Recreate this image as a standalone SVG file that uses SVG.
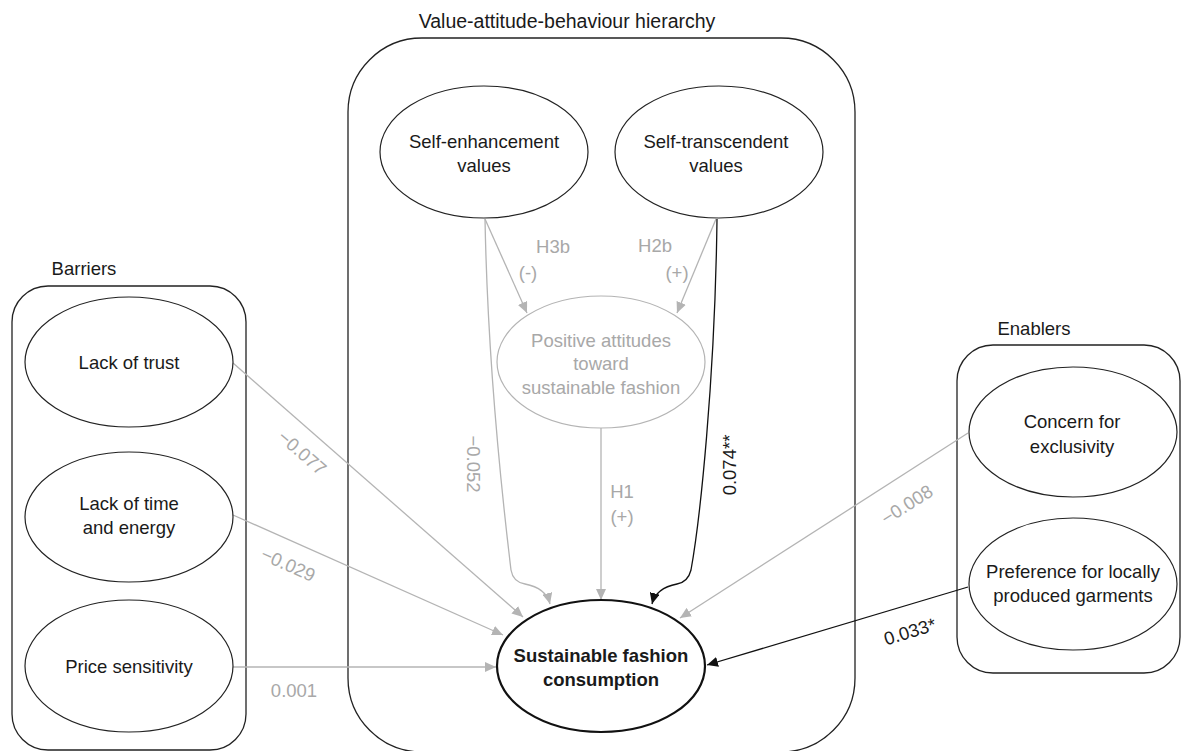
<svg xmlns="http://www.w3.org/2000/svg" width="1182" height="751" viewBox="0 0 1182 751">
<defs>
<style>
.box{fill:none;stroke:#222;stroke-width:1.3}
.node{fill:#fff;stroke:#222;stroke-width:1.2}
.gnode{fill:#fff;stroke:#b4b4b4;stroke-width:1.2}
.main{fill:#fff;stroke:#111;stroke-width:2.2}
.t{font-family:"Liberation Sans",Arial,sans-serif;font-size:18.5px;fill:#1a1a1a;text-anchor:middle}
.g{fill:#a8a8a8}
.b{font-weight:bold}
.gl{fill:none;stroke:#b4b4b4;stroke-width:1.3}
.bl{fill:none;stroke:#111;stroke-width:1.3}
</style>
<marker id="ag" markerUnits="userSpaceOnUse" markerWidth="12" markerHeight="10" refX="11" refY="5" orient="auto"><path d="M0,0 L11,5 L0,10 z" fill="#b4b4b4"/></marker>
<marker id="ab" markerUnits="userSpaceOnUse" markerWidth="12" markerHeight="10" refX="11" refY="5" orient="auto"><path d="M0,0 L11,5 L0,10 z" fill="#111"/></marker>
</defs>
<rect width="1182" height="751" fill="#fff"/>

<g id="group-hierarchy">
<rect class="box" x="348" y="38" width="507" height="714" rx="74"/>
<text class="t" x="567" y="28" style="font-size:19.5px">Value-attitude-behaviour hierarchy</text>
</g>
<g id="group-barriers">
<rect class="box" x="12" y="286" width="234" height="464" rx="36"/>
<text class="t" x="84" y="275">Barriers</text>
</g>
<g id="group-enablers">
<rect class="box" x="957" y="345" width="223" height="328" rx="36"/>
<text class="t" x="1034" y="335">Enablers</text>
</g>

<g id="connectors">
<path class="gl" d="M485,219 L527,313" marker-end="url(#ag)"/>
<path class="gl" d="M716,219 L677,313" marker-end="url(#ag)"/>
<path class="gl" d="M485,219 C488,380 505,520 511,570 Q513,582 525,584 Q546,588 550,604" marker-end="url(#ag)"/>
<path class="bl" d="M717,219 C715,380 700,520 691,570 Q688,582 677,584 Q656,588 652,604" marker-end="url(#ab)"/>
<path class="gl" d="M601,428 L601,600" marker-end="url(#ag)"/>
<path class="gl" d="M233,363 L523,617" marker-end="url(#ag)"/>
<path class="gl" d="M233,515 L503,635" marker-end="url(#ag)"/>
<path class="gl" d="M233,667 L496,667" marker-end="url(#ag)"/>
<path class="gl" d="M968,433 L680,618" marker-end="url(#ag)"/>
<path class="bl" d="M968,587 L707,665" marker-end="url(#ab)"/>
<text class="t g" x="553" y="253">H3b</text>
<text class="t g" x="528" y="279">(-)</text>
<text class="t g" x="655" y="252">H2b</text>
<text class="t g" x="677" y="279">(+)</text>
<text class="t g" x="622" y="498">H1</text>
<text class="t g" x="622" y="523">(+)</text>
<text class="t g" transform="translate(467,464) rotate(90)">−0.052</text>
<text class="t" transform="translate(736,465) rotate(-90)">0.074**</text>
<text class="t g" transform="translate(302,453) rotate(41)" dy="6">−0.077</text>
<text class="t g" transform="translate(288,565) rotate(24)" dy="6">−0.029</text>
<text class="t g" x="294" y="697">0.001</text>
<text class="t g" transform="translate(907,505) rotate(-32.5)" dy="6">−0.008</text>
<text class="t" transform="translate(910,632) rotate(-17)" dy="6">0.033*</text>
</g>

<g id="node-self-enhancement">
<ellipse class="node" cx="484" cy="152" rx="104" ry="66"/>
<text class="t" x="484" y="148">Self-enhancement</text>
<text class="t" x="484" y="172">values</text>
</g>
<g id="node-self-transcendent">
<ellipse class="node" cx="719" cy="152" rx="104" ry="66"/>
<text class="t" x="716" y="148">Self-transcendent</text>
<text class="t" x="716" y="172">values</text>
</g>
<g id="node-attitudes">
<ellipse class="gnode" cx="601" cy="362" rx="104" ry="66"/>
<text class="t g" x="601" y="347">Positive attitudes</text>
<text class="t g" x="601" y="370">toward</text>
<text class="t g" x="601" y="394">sustainable fashion</text>
</g>
<g id="node-consumption">
<ellipse class="main" cx="601" cy="666" rx="104" ry="66"/>
<text class="t b" x="601" y="662">Sustainable fashion</text>
<text class="t b" x="601" y="686">consumption</text>
</g>
<g id="node-trust">
<ellipse class="node" cx="129" cy="362" rx="104" ry="65"/>
<text class="t" x="129" y="369">Lack of trust</text>
</g>
<g id="node-time">
<ellipse class="node" cx="129" cy="517" rx="104" ry="65"/>
<text class="t" x="129" y="510">Lack of time</text>
<text class="t" x="129" y="534">and energy</text>
</g>
<g id="node-price">
<ellipse class="node" cx="129" cy="666" rx="104" ry="66"/>
<text class="t" x="129" y="673">Price sensitivity</text>
</g>
<g id="node-exclusivity">
<ellipse class="node" cx="1073" cy="432" rx="104" ry="65"/>
<text class="t" x="1072" y="428">Concern for</text>
<text class="t" x="1072" y="453">exclusivity</text>
</g>
<g id="node-local">
<ellipse class="node" cx="1073" cy="584" rx="104" ry="66"/>
<text class="t" x="1073" y="578">Preference for locally</text>
<text class="t" x="1073" y="602">produced garments</text>
</g>
</svg>
